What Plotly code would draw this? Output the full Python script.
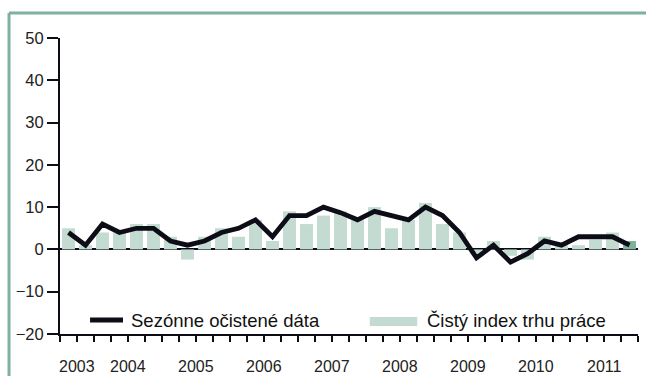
import plotly.graph_objects as go

# Quarterly periods: 2003 Q3 through 2011 Q4
quarters = ["2003 Q3", "2003 Q4"] + [f"{y} Q{q}" for y in range(2004, 2012) for q in range(1, 5)]

# Seasonally adjusted series (line)
seasonal = [4, 1, 6, 4, 5, 5, 2, 1, 2, 4, 5, 7, 3, 8, 8, 10, 8.7, 7, 9, 8,
            7, 10, 8, 4, -2, 1, -3, -1, 2, 1, 3, 3, 3, 1]

# Net employment outlook index (bars)
net_index = [5, 1, 4, 4, 6, 6, 3, -2.4, 3, 5, 3, 7, 2, 9, 6, 8, 9, 7, 10, 5,
             7, 11, 6, 4, -1, 2, -1.5, -2.4, 3, 1.5, 1, 2.3, 4, 2]

years = ["2003", "2004", "2005", "2006", "2007", "2008", "2009", "2010", "2011"]

y_ticks = [-20, -10, 0, 10, 20, 30, 40, 50]

BAR = "#c3dbd0"
BAR_LAST = "#7db39b"
LINE = "#0d0d17"
FRAME = "#7fb19c"
FONT = "Liberation Sans, Arial, sans-serif"

x = list(range(len(quarters)))
bar_colors = [BAR] * (len(x) - 1) + [BAR_LAST]

fig = go.Figure()
fig.add_trace(go.Bar(
    x=x, y=net_index, name="Čistý index trhu práce",
    marker=dict(color=bar_colors, line=dict(width=0)),
    width=0.76, hovertext=quarters,
))
fig.add_trace(go.Scatter(
    x=x, y=seasonal, name="Sezónne očistené dáta", mode="lines",
    line=dict(color=LINE, width=4.8), hovertext=quarters,
))

# Year boundaries (long ticks) and quarter boundaries (short ticks)
first_year_q = 2  # 2003 has two quarters shown
year_edges = [-0.5] + [first_year_q - 0.5 + 4 * k for k in range(len(years))]
quarter_edges = [i - 0.5 for i in range(len(x) + 1)]
year_centers = [(year_edges[i] + year_edges[i + 1]) / 2 for i in range(len(years))]

fig.update_xaxes(
    range=[-0.5, len(x) - 0.5],
    showline=True, linecolor=LINE, linewidth=2,
    showgrid=False, zeroline=False,
    tickmode="array", tickvals=year_edges, ticktext=[""] * len(year_edges),
    ticks="outside", ticklen=18, tickwidth=2, tickcolor=LINE,
    minor=dict(tickmode="array", tickvals=quarter_edges, ticks="outside",
               ticklen=6, tickwidth=2, tickcolor=LINE, showgrid=False),
)
fig.update_yaxes(
    range=[-20, 50],
    showline=True, linecolor=LINE, linewidth=2,
    showgrid=False,
    zeroline=True, zerolinecolor=LINE, zerolinewidth=2,
    tickmode="array", tickvals=y_ticks,
    ticks="outside", ticklen=11, tickwidth=2, tickcolor=LINE,
    tickfont=dict(family=FONT, size=16.5, color="#222"),
)

annotations = []
for yr, cx in zip(years, year_centers):
    annotations.append(dict(
        x=cx, y=0, xref="x", yref="paper", text=yr, showarrow=False,
        xanchor="center", yanchor="top", yshift=-22,
        font=dict(family=FONT, size=16, color="#222"),
    ))

# Legend drawn inside the plot area
LEGEND_FONT = dict(family=FONT, size=18.5, color="#111")
annotations.append(dict(
    x=0.119, y=0.047, xref="paper", yref="paper", text="Sezónne očistené dáta",
    showarrow=False, xanchor="left", yanchor="middle", font=LEGEND_FONT,
))
annotations.append(dict(
    x=0.631, y=0.047, xref="paper", yref="paper", text="Čistý index trhu práce",
    showarrow=False, xanchor="left", yanchor="middle", font=LEGEND_FONT,
))

shapes = [
    dict(type="line", xref="paper", yref="paper", x0=0.052, x1=0.109, y0=0.047, y1=0.047,
         line=dict(color=LINE, width=5)),
    dict(type="rect", xref="paper", yref="paper", x0=0.536, x1=0.618, y0=0.027, y1=0.0574,
         fillcolor=BAR, line=dict(width=0)),
    # Outer frame
    dict(type="line", xref="paper", yref="paper", x0=-0.0882, x1=-0.0882, y0=1.0845, y1=-0.3,
         line=dict(color=FRAME, width=3)),
    dict(type="line", xref="paper", yref="paper", x0=-0.0882, x1=1.2, y0=1.0845, y1=1.0845,
         line=dict(color=FRAME, width=3)),
]

fig.update_layout(
    width=646, height=376,
    margin=dict(l=60, r=8, t=38, b=42),
    paper_bgcolor="white", plot_bgcolor="white",
    showlegend=False, barmode="overlay",
    annotations=annotations, shapes=shapes,
    font=dict(family=FONT, size=16, color="#222"),
)

fig.write_html("out.html")
